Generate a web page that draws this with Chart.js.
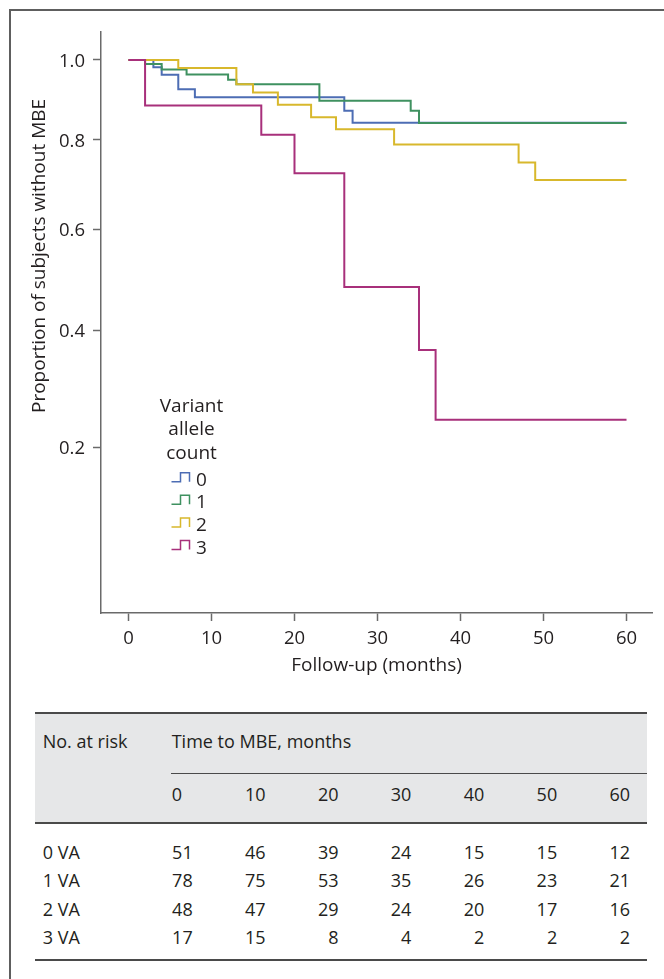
<!DOCTYPE html>
<html>
<head>
<meta charset="utf-8">
<script src="https://cdn.jsdelivr.net/npm/chart.js@4.4.1/dist/chart.umd.min.js"></script>
<style>
  html, body { margin: 0; padding: 0; background: #fff; }
  body { width: 664px; height: 979px; position: relative; overflow: hidden; font-family: "Open Sans", sans-serif; color: #231f20; }
  .frame-top { position: absolute; left: 9px; top: 9px; right: 0; height: 2px; background: #5e5e5e; }
  .frame-left { position: absolute; left: 9px; top: 9px; width: 2px; bottom: 0; background: #5e5e5e; }
  #plot { position: absolute; left: 0; top: 0; }
  .rule { position: absolute; background: #4a4a4a; }
  .shade { position: absolute; left: 35px; top: 713px; width: 612px; height: 110px; background: #e6e7e8; }
  .cell { position: absolute; font-size: 18px; line-height: 24px; white-space: nowrap; }
</style>
</head>
<body>
<div class="frame-top"></div>
<div class="frame-left"></div>
<canvas id="plot" width="664" height="700"></canvas>
<div id="risk"></div>

<script>
// Kaplan-Meier estimates by variant allele count (step drops at each month)
const groups = ["0", "1", "2", "3"];

const months0 = [0, 3, 4, 6, 8, 26, 27, 60];
const surv0 = [1.0, 0.981, 0.961, 0.924, 0.904, 0.870, 0.841, 0.841];

const months1 = [0, 2, 4, 7, 12, 13, 23, 34, 35, 60];
const surv1 = [1.0, 0.989, 0.975, 0.962, 0.948, 0.937, 0.895, 0.870, 0.840, 0.840];

const months2 = [0, 6, 13, 15, 18, 22, 25, 32, 47, 49, 60];
const surv2 = [1.0, 0.979, 0.937, 0.916, 0.885, 0.854, 0.825, 0.789, 0.747, 0.707, 0.707];

const months3 = [0, 2, 16, 20, 26, 35, 37, 60];
const surv3 = [1.0, 0.883, 0.812, 0.722, 0.482, 0.364, 0.244, 0.244];

const xTicks = [0, 10, 20, 30, 40, 50, 60];
const yTicks = [0.2, 0.4, 0.6, 0.8, 1.0];

// numbers at risk table
const riskMonths = [0, 10, 20, 30, 40, 50, 60];
const atRisk0 = [51, 46, 39, 24, 15, 15, 12];
const atRisk1 = [78, 75, 53, 35, 26, 23, 21];
const atRisk2 = [48, 47, 29, 24, 20, 17, 16];
const atRisk3 = [17, 15, 8, 4, 2, 2, 2];

const lineColors = ["#4d6db4", "#3f9160", "#d8b82c", "#a8307b"];
const FONT = '"Open Sans", sans-serif';
const INK = "#231f20";

// y axis spaced on log(1 + S)
class Log1pScale extends Chart.LinearScale {
  static id = "log1p";
  configure() {
    super.configure();
    this._lo = Math.log1p(this.min);
    this._span = Math.log1p(this.max) - this._lo;
  }
  getPixelForValue(value) {
    if (value === null || value === undefined || isNaN(value)) return NaN;
    return this.getPixelForDecimal((Math.log1p(value) - this._lo) / this._span);
  }
  getValueForPixel(pixel) {
    return Math.expm1(this._lo + this.getDecimalForPixel(pixel) * this._span);
  }
}
Chart.register(Log1pScale);

const curves = [[months0, surv0], [months1, surv1], [months2, surv2], [months3, surv3]];
const drawOrder = [3, 2, 1, 0]; // magenta on top, blue at the bottom

const datasets = curves.map(([m, s], i) => ({
  label: groups[i],
  data: m.map((t, k) => ({ x: t, y: s[k] })),
  borderColor: lineColors[i],
  backgroundColor: lineColors[i],
  borderWidth: 2,
  stepped: true,
  pointRadius: 0,
  fill: false,
  order: drawOrder[i],
}));

const keyTitle = ["Variant", "allele", "count"];

const annotate = {
  id: "annotate",
  afterDraw(chart) {
    const ctx = chart.ctx;
    ctx.save();
    ctx.fillStyle = INK;

    // y axis title
    ctx.save();
    ctx.translate(44.5, 256);
    ctx.rotate(-Math.PI / 2);
    ctx.font = "19px " + FONT;
    ctx.textAlign = "center";
    ctx.textBaseline = "alphabetic";
    ctx.fillText("Proportion of subjects without MBE", 0, 0);
    ctx.restore();

    // key
    ctx.font = "19px " + FONT;
    ctx.textAlign = "center";
    ctx.textBaseline = "alphabetic";
    keyTitle.forEach((t, i) => ctx.fillText(t, 191.5, 411.5 + i * 23.6));

    chart.data.datasets.forEach((ds, i) => {
      const base = 485.7 + i * 22.6;
      ctx.strokeStyle = ds.borderColor;
      ctx.lineWidth = 1.5;
      ctx.beginPath();
      ctx.moveTo(171.5, base - 4);
      ctx.lineTo(180.5, base - 4);
      ctx.lineTo(180.5, base - 13);
      ctx.lineTo(189.5, base - 13);
      ctx.lineTo(189.5, base - 4);
      ctx.stroke();
      ctx.textAlign = "left";
      ctx.fillText(ds.label, 196, base);
    });
    ctx.restore();
  },
};

new Chart(document.getElementById("plot"), {
  type: "line",
  data: { datasets },
  plugins: [annotate],
  options: {
    responsive: false,
    animation: false,
    devicePixelRatio: 1,
    layout: { padding: { left: 0, top: 32, right: 12, bottom: 0 } },
    plugins: { legend: { display: false }, tooltip: { enabled: false } },
    scales: {
      x: {
        type: "linear",
        min: -3.31,
        max: 63.07,
        bounds: "data",
        afterBuildTicks: (s) => { s.ticks = xTicks.map((v) => ({ value: v })); },
        afterFit: (s) => { s.height = 87; },
        grid: { display: true, drawOnChartArea: false, drawTicks: true, tickLength: 8, tickColor: "#6a6a6a", tickWidth: 1.5 },
        border: { display: true, color: "#6a6a6a", width: 1.5 },
        ticks: { padding: 7, color: INK, maxRotation: 0, font: { family: FONT, size: 18.5 } },
        title: { display: true, text: "Follow-up (months)", color: INK, font: { family: FONT, size: 19 }, padding: { top: 0, bottom: 23 } },
      },
      y: {
        type: "log1p",
        min: -0.036,
        max: 1.075,
        bounds: "data",
        afterBuildTicks: (s) => { s.ticks = yTicks.map((v) => ({ value: v })); },
        afterFit: (s) => { s.width = 101; },
        grid: { display: true, drawOnChartArea: false, drawTicks: true, tickLength: 8, tickColor: "#6a6a6a", tickWidth: 1.5 },
        border: { display: true, color: "#6a6a6a", width: 1.5 },
        ticks: { padding: 8, labelOffset: 1.5, color: INK, font: { family: FONT, size: 18.5 }, callback: (v) => v.toFixed(1) },
      },
    },
  },
});

// numbers-at-risk table below the plot
function cell(text, cy, opts) {
  const pos = opts.right != null ? `right:${664 - opts.right}px;` : `left:${opts.left}px;`;
  return `<div class="cell" style="${pos}top:${(cy - 12.6).toFixed(1)}px">${text}</div>`;
}

const colRight = (i) => 192.7 + i * 72.9;
const riskRows = [atRisk0, atRisk1, atRisk2, atRisk3];
let html = `<div class="shade"></div>
  <div class="rule" style="left:35px;top:712px;width:612px;height:2px"></div>
  <div class="rule" style="left:171px;top:773px;width:476px;height:1px"></div>
  <div class="rule" style="left:35px;top:822px;width:612px;height:2px"></div>
  <div class="rule" style="left:35px;top:959px;width:612px;height:2px"></div>`;
html += cell("No. at risk", 741.7, { left: 42.7 });
html += cell("Time to MBE, months", 741.7, { left: 171.7 });
riskMonths.forEach((m, i) => {
  html += i === 0 ? cell(m, 795, { left: 171.7 }) : cell(m, 795, { right: colRight(i) });
});
riskRows.forEach((row, r) => {
  const cy = 852.7 + r * 28.2;
  html += cell(groups[r] + " VA", cy, { left: 42.7 });
  row.forEach((n, i) => { html += cell(n, cy, { right: colRight(i) }); });
});
document.getElementById("risk").innerHTML = html;
</script>
</body>
</html>
